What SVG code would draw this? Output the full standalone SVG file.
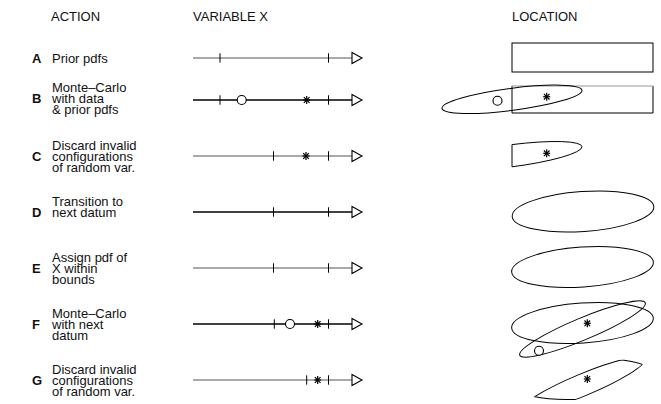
<svg xmlns="http://www.w3.org/2000/svg" width="661" height="404" viewBox="0 0 661 404">
  <style>
    text { font-family: "Liberation Sans", Arial, sans-serif; font-size: 13px; fill: #111; }
    .key { font-weight: bold; }
    .axis { stroke: #000; stroke-width: 1.3; fill: none; }
    .axis.light { stroke: #555; stroke-width: 1; }
    .tick { stroke: #000; stroke-width: 1; }
    .shape { stroke: #000; stroke-width: 1; fill: none; }
    .dot { stroke: #000; stroke-width: 1.1; fill: #fff; }
    .star line { stroke: #000; stroke-width: 1.2; }
    .head { stroke: #000; stroke-width: 1.1; fill: #fff; }
  </style>
  <defs>
    <g id="star" class="star">
      <line x1="0" y1="-4" x2="0" y2="4"/>
      <line x1="-3.5" y1="0" x2="3.5" y2="0"/>
      <line x1="-2.8" y1="-2.8" x2="2.8" y2="2.8"/>
      <line x1="-2.8" y1="2.8" x2="2.8" y2="-2.8"/>
    </g>
    <polygon id="head" class="head" points="0,-5.5 10,0 0,5.5"/>
    <line id="tick" class="tick" x1="0" y1="-4.7" x2="0" y2="4.7"/>
    <!-- clip regions for the bounded location shape in row G -->
    <clipPath id="clipG-h">
      <ellipse cx="582.5" cy="379" rx="71" ry="20" transform="rotate(-4 582.5 379)"/>
    </clipPath>
    <clipPath id="clipG-t">
      <ellipse cx="582.5" cy="385" rx="68" ry="11" transform="rotate(-22.7 582.5 385)"/>
    </clipPath>
  </defs>

  <!-- column headings -->
  <g id="headings">
    <text x="51" y="21">ACTION</text>
    <text x="193" y="21">VARIABLE X</text>
    <text x="512" y="21">LOCATION</text>
  </g>

  <!-- action labels -->
  <g id="actions">
    <g id="row-A">
      <text class="key" x="32" y="62.5">A</text>
      <text x="52" y="62.5">Prior pdfs</text>
    </g>
    <g id="row-B">
      <text class="key" x="32" y="103">B</text>
      <text x="52" y="92">Monte–Carlo</text>
      <text x="52" y="103">with data</text>
      <text x="52" y="114">&amp; prior pdfs</text>
    </g>
    <g id="row-C">
      <text class="key" x="32" y="160.5">C</text>
      <text x="52" y="149.5">Discard invalid</text>
      <text x="52" y="160.5">configurations</text>
      <text x="52" y="171.5">of random var.</text>
    </g>
    <g id="row-D">
      <text class="key" x="32" y="216.5">D</text>
      <text x="52" y="205.5">Transition to</text>
      <text x="52" y="216.5">next datum</text>
    </g>
    <g id="row-E">
      <text class="key" x="32" y="272.5">E</text>
      <text x="52" y="261.5">Assign pdf of</text>
      <text x="52" y="272.5">X within</text>
      <text x="52" y="283.5">bounds</text>
    </g>
    <g id="row-F">
      <text class="key" x="32" y="328.5">F</text>
      <text x="52" y="317.5">Monte–Carlo</text>
      <text x="52" y="328.5">with next</text>
      <text x="52" y="339.5">datum</text>
    </g>
    <g id="row-G">
      <text class="key" x="32" y="384.5">G</text>
      <text x="52" y="373.5">Discard invalid</text>
      <text x="52" y="384.5">configurations</text>
      <text x="52" y="395.5">of random var.</text>
    </g>
  </g>

  <!-- variable X axes with bounds, samples and arrowheads -->
  <g id="axes">
    <g id="axis-A">
      <line class="axis light" x1="193" y1="58" x2="352" y2="58"/>
      <use href="#tick" x="220" y="58"/>
      <use href="#tick" x="328.5" y="58"/>
      <use href="#head" x="352" y="58"/>
    </g>
    <g id="axis-B">
      <line class="axis" x1="193" y1="100" x2="352" y2="100"/>
      <use href="#tick" x="220" y="100"/>
      <use href="#tick" x="328.5" y="100"/>
      <circle class="dot" cx="241.7" cy="100" r="4.5"/>
      <use href="#star" x="306.7" y="100"/>
      <use href="#head" x="352" y="100"/>
    </g>
    <g id="axis-C">
      <line class="axis light" x1="193" y1="156" x2="352" y2="156"/>
      <use href="#tick" x="273.5" y="156"/>
      <use href="#tick" x="328.5" y="156"/>
      <use href="#star" x="306" y="156"/>
      <use href="#head" x="352" y="156"/>
    </g>
    <g id="axis-D">
      <line class="axis" x1="193" y1="212" x2="352" y2="212"/>
      <use href="#tick" x="273.5" y="212"/>
      <use href="#tick" x="328.5" y="212"/>
      <use href="#head" x="352" y="212"/>
    </g>
    <g id="axis-E">
      <line class="axis light" x1="193" y1="268" x2="352" y2="268"/>
      <use href="#tick" x="273.5" y="268"/>
      <use href="#tick" x="328.5" y="268"/>
      <use href="#head" x="352" y="268"/>
    </g>
    <g id="axis-F">
      <line class="axis" x1="193" y1="324" x2="352" y2="324"/>
      <use href="#tick" x="274.3" y="324"/>
      <use href="#tick" x="328.5" y="324"/>
      <circle class="dot" cx="290" cy="324" r="4.5"/>
      <use href="#star" x="317.7" y="324"/>
      <use href="#head" x="352" y="324"/>
    </g>
    <g id="axis-G">
      <line class="axis light" x1="193" y1="380" x2="352" y2="380"/>
      <use href="#tick" x="306.7" y="380"/>
      <use href="#tick" x="328.5" y="380"/>
      <use href="#star" x="317.7" y="380"/>
      <use href="#head" x="352" y="380"/>
    </g>
  </g>

  <!-- location sketches -->
  <g id="locations">
    <g id="loc-A">
      <rect class="shape" x="512" y="43" width="141" height="29"/>
    </g>
    <g id="loc-B">
      <path class="shape" d="M512,86 V113 H653 V86"/>
      <line x1="512" y1="86" x2="653" y2="86" stroke="#999" stroke-width="1"/>
      <ellipse class="shape" cx="512" cy="99.3" rx="70.6" ry="11" transform="rotate(-7.4 512 99.3)"/>
      <circle class="dot" cx="497.5" cy="100.7" r="4.5"/>
      <use href="#star" x="546.7" y="96.7"/>
    </g>
    <g id="loc-C">
      <path class="shape" d="M512,144.6 A70.6,11 -7.4 0 1 512,166.8 Z"/>
      <use href="#star" x="546.7" y="153.3"/>
    </g>
    <g id="loc-D">
      <ellipse class="shape" cx="583" cy="211.5" rx="71" ry="20" transform="rotate(-4 583 211.5)"/>
    </g>
    <g id="loc-E">
      <ellipse class="shape" cx="582.5" cy="267" rx="71" ry="20" transform="rotate(-4 582.5 267)"/>
    </g>
    <g id="loc-F">
      <ellipse class="shape" cx="582.5" cy="323" rx="71" ry="20" transform="rotate(-4 582.5 323)"/>
      <ellipse class="shape" cx="582.5" cy="329" rx="68" ry="11" transform="rotate(-22.7 582.5 329)"/>
      <circle class="dot" cx="539" cy="350.7" r="4.5"/>
      <use href="#star" x="587.3" y="323.3"/>
    </g>
    <g id="loc-G">
      <g clip-path="url(#clipG-t)">
        <ellipse class="shape" cx="582.5" cy="379" rx="71" ry="20" transform="rotate(-4 582.5 379)"/>
      </g>
      <g clip-path="url(#clipG-h)">
        <ellipse class="shape" cx="582.5" cy="385" rx="68" ry="11" transform="rotate(-22.7 582.5 385)"/>
      </g>
      <use href="#star" x="587.3" y="379"/>
    </g>
  </g>
</svg>
